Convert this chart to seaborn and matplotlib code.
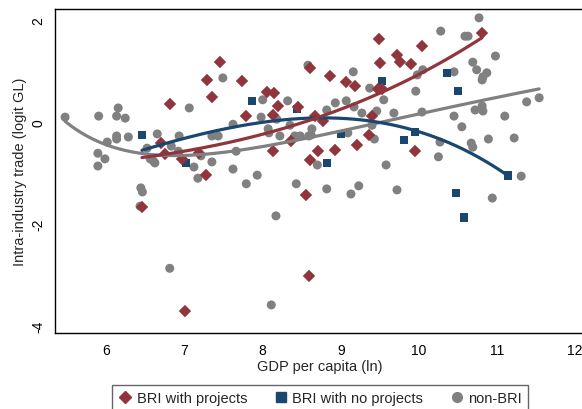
import itertools
import numpy as np
import pandas as pd
import matplotlib
matplotlib.use("Agg")
import matplotlib.pyplot as plt
from matplotlib.lines import Line2D
import seaborn as sns

sns.set_style("white")
plt.rcParams['font.family'] = ['Liberation Sans', 'DejaVu Sans']
plt.rcParams['axes.unicode_minus'] = False

# BRI with projects (ln GDP per capita, logit GL)
proj_x = [6.455, 7.005, 6.698, 6.749, 6.967, 7.184, 6.813, 7.287, 7.351, 7.453,
          7.274, 7.735, 7.786, 8.055, 8.145, 8.196, 8.132, 8.132, 8.362, 8.452,
          8.554, 8.593, 8.606, 8.606, 8.670, 8.708, 8.772, 8.862, 8.926, 9.067,
          9.182, 9.207, 9.361, 9.400, 9.489, 9.476, 9.528, 9.502, 9.720, 9.758,
          9.899, 9.950, 10.040, 10.808]
proj_y = [-1.676, -3.72, -0.418, -0.634, -0.733, -0.615, 0.348, 0.819, 0.485, 1.173,
          -1.047, 0.800, 0.112, 0.583, 0.564, 0.308, 0.132, -0.576, -0.379, 0.289,
          -1.44, -3.03, 1.055, -0.752, 0.112, -0.576, 0.014, 0.898, -0.556, 0.780,
          0.701, -0.458, -0.261, 0.112, 1.625, 0.642, 0.642, 1.153, 1.31, 1.173,
          1.134, -0.576, 1.487, 1.742]

# BRI with no projects
noproj_x = [6.455, 7.018, 7.863, 8.439, 8.823, 9.002, 9.527, 9.809, 9.950, 10.360,
            10.500, 10.475, 10.578, 11.141]
noproj_y = [-0.261, -0.811, 0.407, 0.250, -0.811, -0.242, 0.800, -0.359, -0.202, 0.957,
            0.603, -1.40, -1.88, -1.06]

# non-BRI
non_x = [5.47, 5.90, 6.15, 6.13, 6.24, 6.01, 6.13, 6.13, 6.28, 5.89,
         5.98, 5.89, 6.44, 6.46, 6.43, 6.65, 6.52, 6.60, 6.56, 6.62,
         7.06, 6.93, 6.83, 6.92, 7.12, 7.17, 7.21, 7.35, 7.35, 7.43,
         7.49, 7.62, 7.62, 7.66, 7.79, 7.93, 7.98, 8.00, 8.07, 8.08,
         8.18, 8.22, 8.32, 8.35, 8.41, 8.48, 8.59, 8.63, 8.62, 8.43,
         6.81, 8.17, 8.11, 8.58, 9.16, 9.37, 9.55, 8.93, 9.07, 9.17,
         8.82, 9.27, 9.46, 9.68, 9.40, 9.43, 9.09, 8.70, 9.58, 8.82,
         9.13, 9.23, 9.72, 10.77, 10.28, 10.59, 10.63, 9.98, 10.05, 10.69,
         10.74, 10.98, 10.45, 10.81, 10.87, 10.82, 9.96, 10.04, 10.45, 10.55,
         10.72, 10.81, 10.82, 11.10, 11.38, 11.54, 10.27, 10.67, 10.69, 10.89,
         11.22, 10.25, 11.31, 10.94]
non_y = [0.09, 0.11, 0.27, 0.11, 0.07, -0.40, -0.28, -0.34, -0.30, -0.62,
         -0.73, -0.87, -1.30, -1.38, -1.66, -0.24, -0.52, -0.77, -0.73, -0.81,
         0.27, -0.28, -0.48, -0.58, -0.89, -1.11, -0.67, -0.79, -0.28, -0.28,
         0.86, -0.05, -0.93, -0.58, -1.22, -1.05, 0.09, 0.43, -0.14, -0.22,
         0.05, -0.28, 0.41, -0.07, -0.28, -0.28, -0.28, -0.14, -0.26, -1.22,
         -2.88, -1.85, -3.60, 1.11, 0.98, 0.66, 0.43, 0.37, 0.41, 0.29,
         0.23, 0.17, 0.21, 0.17, -0.07, -0.34, -0.22, -0.85, -0.85, -1.32,
         -1.42, -1.26, -1.34, 2.04, 1.78, 1.68, 1.68, 0.92, 1.02, 1.17,
         1.02, 1.29, 0.98, 0.82, 0.96, 0.88, 0.60, 0.19, 0.11, -0.10,
         0.23, 0.31, 0.21, 0.11, 0.39, 0.47, -0.40, -0.42, -0.50, -0.34,
         -0.32, -0.69, -1.07, -1.50]

labels = ["BRI with projects", "BRI with no projects", "non-BRI"]
colors = {"BRI with projects": "#90353B", "BRI with no projects": "#1A476F", "non-BRI": "#808080"}
markers = {"BRI with projects": "D", "BRI with no projects": "s", "non-BRI": "o"}
sizes = {"BRI with projects": 40, "BRI with no projects": 40, "non-BRI": 42}

df = pd.concat([
    pd.DataFrame({"gdp": proj_x, "gl": proj_y, "grp": labels[0]}),
    pd.DataFrame({"gdp": noproj_x, "gl": noproj_y, "grp": labels[1]}),
    pd.DataFrame({"gdp": non_x, "gl": non_y, "grp": labels[2]}),
], ignore_index=True)

POWERS = [-2, -1, -0.5, 0, 0.5, 1, 2, 3]


def fp_term(x, p):
    return np.log(x) if p == 0 else x ** p


def fpfit(x, y, n_pts=200):
    # degree-2 fractional polynomial, best pair of powers by RSS
    x, y = np.asarray(x, float), np.asarray(y, float)
    grid = np.linspace(x.min(), x.max(), n_pts)
    best = None
    for p1, p2 in itertools.combinations_with_replacement(POWERS, 2):
        def design(v):
            a = fp_term(v, p1)
            b = fp_term(v, p2) * np.log(v) if p1 == p2 else fp_term(v, p2)
            return np.column_stack([np.ones_like(v), a, b])
        coef, *_ = np.linalg.lstsq(design(x), y, rcond=None)
        rss = ((design(x) @ coef - y) ** 2).sum()
        if best is None or rss < best[0]:
            best = (rss, design(grid) @ coef)
    return grid, best[1]


fig = plt.figure(figsize=(5.82, 4.10), dpi=100)
ax = fig.add_axes([55 / 582, 76 / 410, 530 / 582, 324 / 410])

for g in [labels[2], labels[1], labels[0]]:
    sub = df[df.grp == g]
    sns.scatterplot(data=sub, x="gdp", y="gl", ax=ax, color=colors[g], marker=markers[g],
                    s=sizes[g], edgecolor="none", linewidth=0, legend=False, zorder=2)

for g in [labels[2], labels[1], labels[0]]:
    sub = df[df.grp == g]
    lx, ly = fpfit(sub.gdp.values, sub.gl.values)
    sns.lineplot(x=lx, y=ly, ax=ax, color=colors[g], linewidth=2.3, estimator=None,
                 sort=False, zorder=3)

ax.set_xlim(5.341, 12.127)
ax.set_ylim(-4.151, 2.214)
ax.set_xticks([6, 7, 8, 9, 10, 11, 12])
ax.set_yticks([-4, -2, 0, 2])
ax.set_yticklabels(["-4", "-2", "0", "2"], rotation=90, va="center")
ax.tick_params(axis="both", direction="out", length=4, width=0.8, colors="black",
               labelsize=10, pad=3)
for sp in ax.spines.values():
    sp.set_color("black")
    sp.set_linewidth(1.0)
ax.set_xlabel("GDP per capita (ln)", fontsize=10.5, labelpad=2)
ax.set_ylabel("Intra-industry trade (logit GL)", fontsize=10.5, labelpad=3)

handles = [Line2D([], [], linestyle="", marker=markers[g], color=colors[g],
                  markersize=7 if g != labels[0] else 6.5) for g in labels]
fig.legend(handles, labels, loc="upper center", bbox_to_anchor=(320 / 582, 31 / 410),
           ncol=3, frameon=True, fancybox=False, edgecolor="#404040", fontsize=10.5,
           handletextpad=0.3, columnspacing=1.8, borderpad=0.4, handlelength=1.0)

fig.savefig("out.png", dpi=100)
